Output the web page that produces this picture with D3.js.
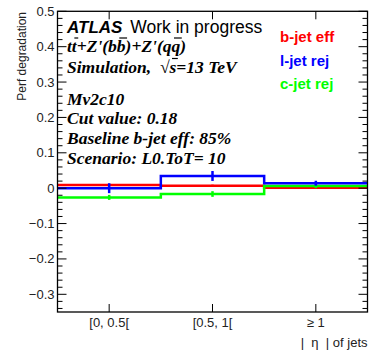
<!DOCTYPE html>
<html><head><meta charset="utf-8">
<script src="https://cdn.jsdelivr.net/npm/d3@7"></script>
<style>body{margin:0;background:#fff}svg{display:block}
.serif{font-family:'Liberation Serif','Times New Roman','DejaVu Serif',serif;font-weight:bold;font-style:italic;font-size:17.5px}
.sans{font-family:'Liberation Sans',Arial,sans-serif}
</style>
</head><body>
<script>
const categories = ["[0, 0.5[", "[0.5, 1[", "\u2265 1"];
const bEff = [0.009, 0.007, 0.0015];
const bEffErr = [0.003, 0.003, 0.002];
const lRej = [0.0, 0.0345, 0.014];
const lRejErr = [0.014, 0.014, 0.007];
const cRej = [-0.026, -0.0165, 0.006];
const cRejErr = [0.007, 0.008, 0.006];
const yTicks = [-0.3, -0.2, -0.1, 0, 0.1, 0.2, 0.3, 0.4, 0.5];

const W = 376, H = 351;
const svg = d3.select("body").append("svg").attr("width", W).attr("height", H);
const L = 57.5, R = 367.5, T = 11.3, B = 312;
const x = d3.scaleBand().domain(categories).range([L, R]).padding(0);
const y = d3.scaleLinear().domain([-0.35, 0.5]).range([B, T]);

const series = [
  {vals: bEff, err: bEffErr, color: "#ff0000"},
  {vals: lRej, err: lRejErr, color: "#0000ff"},
  {vals: cRej, err: cRejErr, color: "#00ff00"}
];
[0, 2, 1].forEach(i => {
  const s = series[i];
  let pts = [];
  categories.forEach((c, k) => {
    pts.push([x(c), y(s.vals[k])]);
    pts.push([x(c) + x.bandwidth(), y(s.vals[k])]);
  });
  svg.append("path").attr("d", d3.line()(pts)).attr("fill", "none")
    .attr("stroke", s.color).attr("stroke-width", 2.5);
  categories.forEach((c, k) => {
    const cx = x(c) + x.bandwidth() / 2;
    svg.append("line").attr("x1", cx).attr("x2", cx)
      .attr("y1", y(s.vals[k] - s.err[k])).attr("y2", y(s.vals[k] + s.err[k]))
      .attr("stroke", s.color).attr("stroke-width", 2.5);
  });
});

svg.append("rect").attr("x", L).attr("y", T).attr("width", R - L).attr("height", B - T)
  .attr("fill", "none").attr("stroke", "#000").attr("stroke-width", 1.3);

const minor = d3.range(-0.34, 0.5001, 0.02).map(v => Math.round(v * 100) / 100);
minor.forEach(v => {
  const major = Math.abs(Math.round(v * 10) - v * 10) < 1e-6;
  const len = major ? 9 : 5;
  svg.append("line").attr("x1", L).attr("x2", L + len).attr("y1", y(v)).attr("y2", y(v))
    .attr("stroke", "#000").attr("stroke-width", 1);
  svg.append("line").attr("x1", R).attr("x2", R - len).attr("y1", y(v)).attr("y2", y(v))
    .attr("stroke", "#000").attr("stroke-width", 1);
});
const fmt = v => v === 0 ? "0" : (v < 0 ? "\u2212" + Math.abs(v).toFixed(1) : v.toFixed(1));
yTicks.forEach(v => {
  svg.append("text").attr("class", "sans").attr("x", L - 3).attr("y", y(v) + 4.5).attr("text-anchor", "end")
    .attr("font-size", 13).attr("fill", "#222").text(fmt(v));
});
categories.forEach(c => {
  const cx = x(c) + x.bandwidth() / 2;
  svg.append("line").attr("x1", cx).attr("x2", cx).attr("y1", B).attr("y2", B - 8)
    .attr("stroke", "#000").attr("stroke-width", 1);
  svg.append("line").attr("x1", cx).attr("x2", cx).attr("y1", T).attr("y2", T + 8)
    .attr("stroke", "#000").attr("stroke-width", 1);
  svg.append("text").attr("class", "sans").attr("x", cx).attr("y", 326.5).attr("text-anchor", "middle")
    .attr("font-size", 13).attr("fill", "#222").text(c);
});
svg.append("text").attr("class", "sans").attr("x", R).attr("y", 347).attr("text-anchor", "end")
  .attr("font-size", 13).attr("fill", "#222").style("white-space", "pre")
  .text("|  \u03b7  | of jets");
svg.append("text").attr("class", "sans").attr("transform", `translate(26,12) rotate(-90)`).attr("text-anchor", "end")
  .attr("font-size", 12).attr("fill", "#222").text("Perf degradation");

const atl = svg.append("text").attr("class", "sans").attr("x", 67).attr("y", 33).attr("font-size", 17);
atl.append("tspan").attr("font-weight", "bold").attr("font-style", "italic").text("ATLAS");
atl.append("tspan").attr("dx", 3).attr("font-size", 17.5).text(" Work in progress");

function tline(yy, txt, bars) {
  const t = svg.append("text").attr("class", "serif").attr("x", 67).attr("y", yy)
    .style("white-space", "pre").text(txt);
  (bars || []).forEach(([i0, i1, dy]) => {
    const a = t.node().getExtentOfChar(i0);
    const b = t.node().getExtentOfChar(i1);
    const yb = yy - dy;
    svg.append("line").attr("x1", a.x + 2.5).attr("x2", b.x + b.width + 1.5)
      .attr("y1", yb).attr("y2", yb).attr("stroke", "#000").attr("stroke-width", 1.2);
  });
  return t;
}
tline(51.5, "tt+Z'(bb)+Z'(qq)", [[1, 1, 13.5], [7, 7, 13.5], [14, 14, 13.5]]);
tline(73, "Simulation,  \u221as=13 TeV", [[14, 14, 14.5]]);
tline(105, "Mv2c10");
tline(124, "Cut value: 0.18");
tline(144, "Baseline b-jet eff: 85%");
tline(164, "Scenario: L0.ToT= 10");

const legend = [["b-jet eff", "#ff0000", 42], ["l-jet rej", "#0000ff", 66], ["c-jet rej", "#00ff00", 89]];
legend.forEach(([t, c, yy]) => {
  svg.append("text").attr("class", "sans").attr("x", 280).attr("y", yy).attr("fill", c)
    .attr("font-size", 15).attr("font-weight", "bold").text(t);
});
</script>
</body></html>
